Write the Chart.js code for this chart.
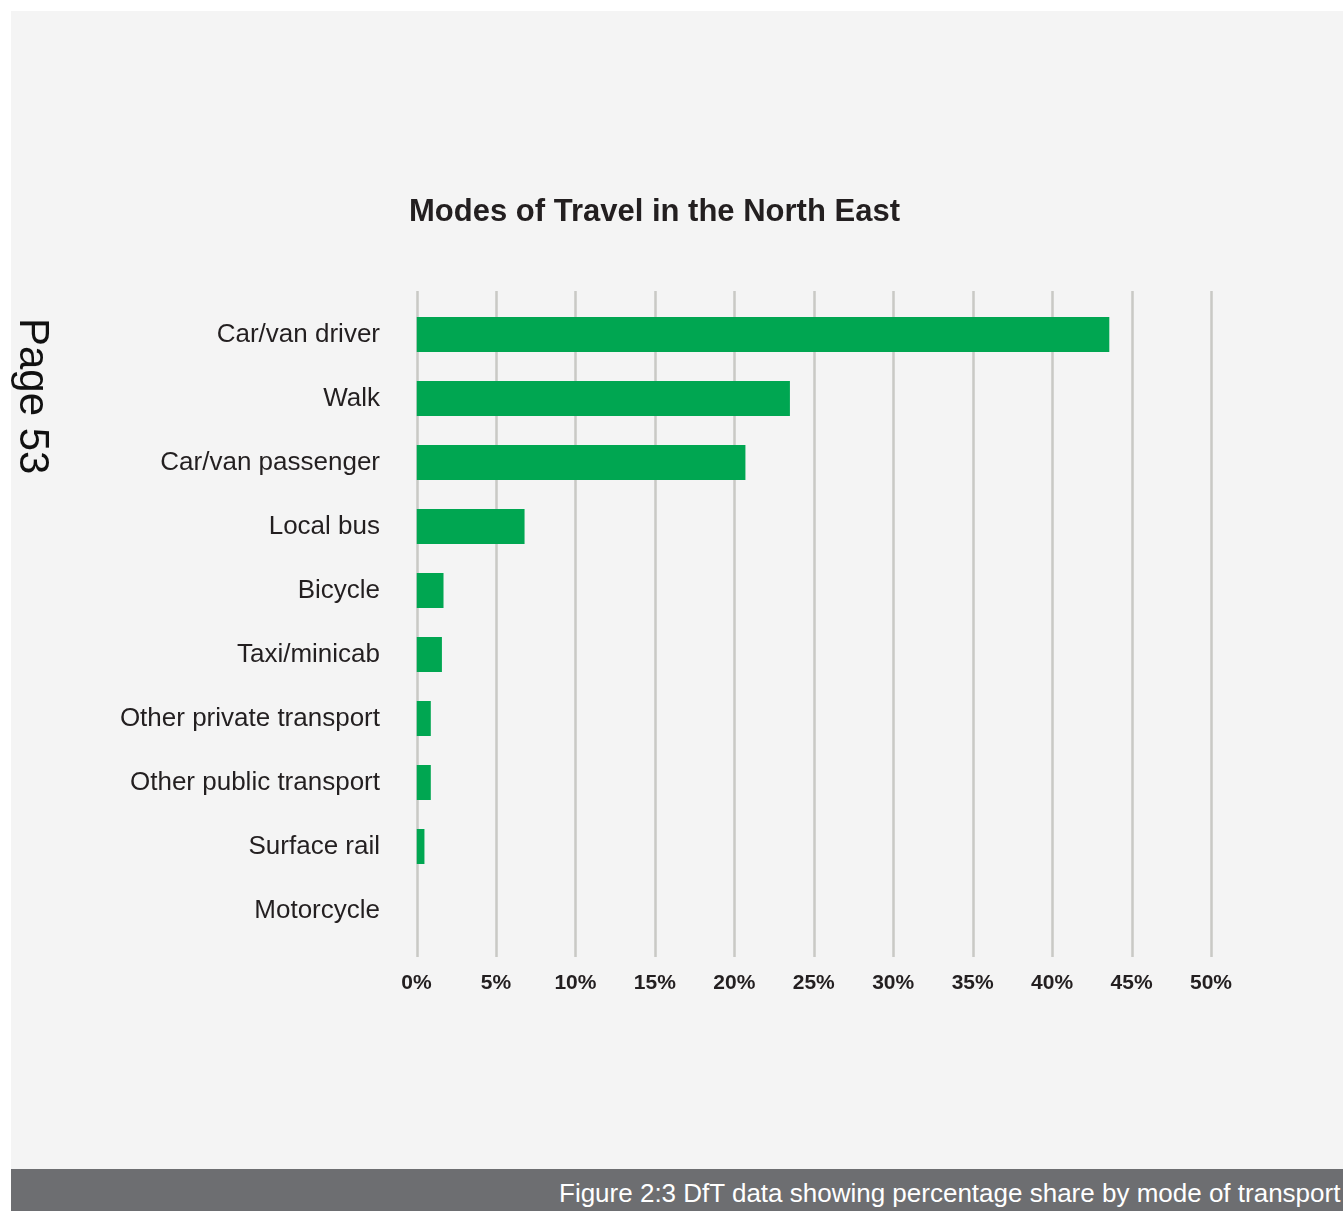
<!DOCTYPE html>
<html>
<head>
<meta charset="utf-8">
<title>Modes of Travel in the North East</title>
<script src="https://cdn.jsdelivr.net/npm/chart.js@4.4.1/dist/chart.umd.min.js"></script>
<style>
  html, body { margin: 0; padding: 0; background: #ffffff; overflow: hidden; }
  body { width: 1343px; height: 1211px; position: relative; font-family: "Liberation Sans", Arial, sans-serif; }
  #panel { position: absolute; left: 11px; top: 11px; right: 0; height: 1158px; background: #f4f4f4; }
  #chart { position: absolute; left: 0; top: 0; }
  #page-no {
    position: absolute; left: 55px; top: 318px;
    font-size: 42px; line-height: 1; color: #111;
    white-space: nowrap;
    transform-origin: 0 0; transform: rotate(90deg);
  }
  #caption {
    position: absolute; left: 11px; right: 0; top: 1169px; height: 42px;
    background: #6d6e71; overflow: hidden;
  }
  #caption span {
    position: absolute; left: 548px; top: 3px;
    font-size: 26px; line-height: 42px; color: #ffffff; white-space: nowrap;
  }
</style>
</head>
<body>
<div id="panel"></div>
<canvas id="chart" width="1343" height="1169"></canvas>
<div id="page-no">Page 53</div>
<div id="caption"><span>Figure 2:3 DfT data showing percentage share by mode of transport</span></div>

<script>
/* Modes of travel — share of trips (%) */
const modes = [
  'Car/van driver', 'Walk', 'Car/van passenger', 'Local bus', 'Bicycle',
  'Taxi/minicab', 'Other private transport', 'Other public transport',
  'Surface rail', 'Motorcycle'
];
const shares = [43.6, 23.5, 20.7, 6.8, 1.7, 1.6, 0.9, 0.9, 0.5, 0];
const axisMin = 0;
const axisMax = 50;
const tickStep = 5;

const FONT = '"Liberation Sans", Arial, sans-serif';

// vertical grid lines run a bit past the plot area, like the original
const gridLines = {
  id: 'gridLines',
  beforeDatasetsDraw(chart) {
    const { ctx, chartArea, scales } = chart;
    ctx.save();
    ctx.strokeStyle = '#c9c9c5';
    ctx.lineWidth = 2.5;
    scales.x.ticks.forEach(t => {
      const px = Math.round(scales.x.getPixelForValue(t.value)) + 0.5;
      ctx.beginPath();
      ctx.moveTo(px, chartArea.top - 11.5);
      ctx.lineTo(px, chartArea.bottom + 14.5);
      ctx.stroke();
    });
    ctx.restore();
  }
};

const ctx = document.getElementById('chart').getContext('2d');
new Chart(ctx, {
  type: 'bar',
  data: {
    labels: modes,
    datasets: [{
      data: shares,
      backgroundColor: '#00a651',
      borderWidth: 0,
      inflateAmount: 0,
      barThickness: 35
    }]
  },
  options: {
    indexAxis: 'y',
    responsive: false,
    animation: false,
    devicePixelRatio: 1,
    layout: { padding: { top: 193.4, left: 98, right: 132, bottom: 145.4 } },
    plugins: {
      legend: { display: false },
      tooltip: { enabled: false },
      title: {
        display: true,
        text: 'Modes of Travel in the North East',
        color: '#231f20',
        font: { family: FONT, size: 31, weight: 'bold', lineHeight: 1.2 },
        padding: { top: 0, bottom: 71.9 }
      }
    },
    scales: {
      x: {
        min: axisMin,
        max: axisMax,
        grid: { display: false, drawTicks: false },
        border: { display: false },
        ticks: {
          stepSize: tickStep,
          padding: 28,
          color: '#231f20',
          font: { family: FONT, size: 21, weight: 'bold', lineHeight: 1.2 },
          callback: v => v + '%'
        }
      },
      y: {
        grid: { display: false, drawTicks: false },
        border: { display: false },
        afterFit: scale => { scale.width = 318.5; },
        ticks: {
          padding: 36.5,
          color: '#231f20',
          font: { family: FONT, size: 26 }
        }
      }
    }
  },
  plugins: [gridLines]
});
</script>
</body>
</html>
